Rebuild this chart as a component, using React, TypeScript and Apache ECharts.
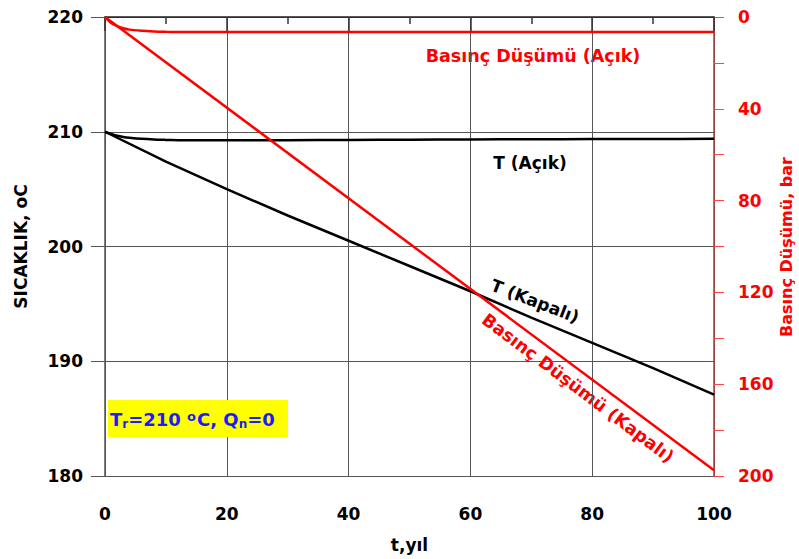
import React, { useEffect, useRef } from "react";
import * as echarts from "echarts";

const years = [0, 1, 2, 3, 4, 6, 8, 10, 12, 15, 20, 30, 40, 50, 60, 70, 80, 90, 100];
const tempOpen = [210, 209.8, 209.65, 209.55, 209.48, 209.38, 209.32, 209.29, 209.27, 209.25, 209.25, 209.27, 209.29, 209.31, 209.33, 209.35, 209.36, 209.37, 209.38];
const tempClosedYears = [0, 10, 20, 30, 40, 50, 60, 70, 80, 90, 100];
const tempClosed = [210, 207.4, 205.0, 202.7, 200.5, 198.3, 196.1, 193.8, 191.6, 189.4, 187.1];
const pressOpen = [0, 2.6, 4.0, 4.9, 5.5, 6.0, 6.3, 6.45, 6.5, 6.55, 6.55, 6.55, 6.55, 6.55, 6.55, 6.55, 6.55, 6.55, 6.55];
const pressClosedYears = [0, 100];
const pressClosed = [0, 197.5];
const xTicks = [0, 20, 40, 60, 80, 100];
const leftTicks = [180, 190, 200, 210, 220];
const rightTicks = [0, 40, 80, 120, 160, 200];

const FONT = "DejaVu Sans";
const BLUE = "#1a1aff";

export default function App() {
  const ref = useRef<HTMLDivElement>(null);
  useEffect(() => {
    if (!ref.current) return;
    const chart = echarts.init(ref.current, null, { renderer: "svg" });
    const zip = (xs: number[], ys: number[]) => xs.map((x, i) => [x, ys[i]]);
    chart.setOption({
      animation: false,
      backgroundColor: "#ffffff",
      grid: { left: 105, right: 85, top: 17, bottom: 83, outerBoundsMode: "none", containLabel: false },
      xAxis: {
        type: "value",
        min: xTicks[0],
        max: xTicks[xTicks.length - 1],
        interval: 20,
        name: "t,yıl",
        nameLocation: "middle",
        nameGap: 60,
        nameTextStyle: { fontFamily: FONT, fontWeight: "bold", fontSize: 17, color: "#000" },
        axisLine: { lineStyle: { color: "#222", width: 1.5 } },
        axisTick: { inside: false, length: 14, lineStyle: { color: "#333", width: 1.5 } },
        minorTick: { show: true, splitNumber: 2, length: 7, lineStyle: { color: "#333", width: 1.5 } },
        axisLabel: { fontFamily: FONT, fontWeight: "bold", fontSize: 17, color: "#000", margin: 29 },
        splitLine: { show: true, lineStyle: { color: "#555", width: 1 } },
      },
      yAxis: [
        {
          type: "value",
          min: leftTicks[0],
          max: leftTicks[leftTicks.length - 1],
          interval: 10,
          name: "SICAKLIK, oC",
          nameLocation: "middle",
          nameGap: 76,
          nameTextStyle: { fontFamily: FONT, fontWeight: "bold", fontSize: 17, color: "#000" },
          axisLine: { show: true, lineStyle: { color: "#555", width: 1.5 } },
          axisTick: { show: true, inside: false, length: 14, lineStyle: { color: "#555", width: 1 } },
          axisLabel: { fontFamily: FONT, fontWeight: "bold", fontSize: 17, color: "#000", margin: 22 },
          splitLine: { show: true, lineStyle: { color: "#555", width: 1 } },
        },
        {
          type: "value",
          min: rightTicks[0],
          max: rightTicks[rightTicks.length - 1],
          interval: 40,
          inverse: true,
          position: "right",
          axisLine: { show: true, lineStyle: { color: "#b03a3a", width: 1.5 } },
          axisTick: { show: true, inside: false, length: 10, lineStyle: { color: "#ff4444", width: 1 } },
          minorTick: { show: true, splitNumber: 2, length: 10, lineStyle: { color: "#ff4444", width: 1 } },
          axisLabel: { fontFamily: FONT, fontWeight: "bold", fontSize: 17, color: "#ff0000", margin: 24 },
          splitLine: { show: false },
        },
      ],
      series: [
        {
          type: "line", name: "T (Açık)", yAxisIndex: 0, showSymbol: false, smooth: 0.3,
          data: zip(years, tempOpen), lineStyle: { color: "#000", width: 2.5 },
        },
        {
          type: "line", name: "T (Kapalı)", yAxisIndex: 0, showSymbol: false,
          data: zip(tempClosedYears, tempClosed), lineStyle: { color: "#000", width: 2.5 },
        },
        {
          type: "line", name: "Basınç Düşümü (Açık)", yAxisIndex: 1, showSymbol: false, smooth: 0.3,
          data: zip(years, pressOpen), lineStyle: { color: "#ff0000", width: 2.5 },
        },
        {
          type: "line", name: "Basınç Düşümü (Kapalı)", yAxisIndex: 1, showSymbol: false,
          data: zip(pressClosedYears, pressClosed), lineStyle: { color: "#ff0000", width: 2.5 },
        },
      ],
      graphic: [
        {
          type: "text", x: 786, y: 247, rotation: Math.PI / 2,
          style: { text: "Basınç Düşümü, bar", fontFamily: FONT, fontWeight: "bold", fontSize: 16, fill: "#ff0000", align: "center", verticalAlign: "middle" },
        },
        {
          type: "text", x: 533, y: 56,
          style: { text: "Basınç Düşümü (Açık)", fontFamily: FONT, fontWeight: "bold", fontSize: 17.5, fill: "#ff0000", align: "center", verticalAlign: "middle" },
        },
        {
          type: "text", x: 530, y: 163,
          style: { text: "T (Açık)", fontFamily: FONT, fontWeight: "bold", fontSize: 17, fill: "#000", align: "center", verticalAlign: "middle" },
        },
        {
          type: "text", x: 535, y: 301, rotation: -21 * Math.PI / 180,
          style: { text: "T (Kapalı)", fontFamily: FONT, fontWeight: "bold", fontSize: 17, fill: "#000", align: "center", verticalAlign: "middle" },
        },
        {
          type: "text", x: 578, y: 388, rotation: -37 * Math.PI / 180,
          style: { text: "Basınç Düşümü (Kapalı)", fontFamily: FONT, fontWeight: "bold", fontSize: 17.5, fill: "#ff0000", align: "center", verticalAlign: "middle" },
        },
        {
          type: "rect", shape: { x: 108, y: 400, width: 180, height: 37 },
          style: { fill: "#ffff00" }, z: 10,
        },
        {
          type: "text", x: 110, y: 419, z: 11,
          style: {
            text: "{b|T}{s|r}{b|=210 }{sup|o}{b|C, Q}{s|n}{b|=0}",
            verticalAlign: "middle",
            fill: BLUE,
            rich: {
              b: { fontFamily: FONT, fontWeight: "bold", fontSize: 18, fill: BLUE },
              s: { fontFamily: FONT, fontWeight: "bold", fontSize: 12, fill: BLUE, padding: [10, 0, 0, 0] },
              sup: { fontFamily: FONT, fontWeight: "bold", fontSize: 13, fill: BLUE, padding: [0, 1, 6, 0] },
            },
          },
        },
      ],
    });
    return () => chart.dispose();
  }, []);
  return <div ref={ref} style={{ width: 799, height: 559, position: "absolute", left: 0, top: 0 }} />;
}
